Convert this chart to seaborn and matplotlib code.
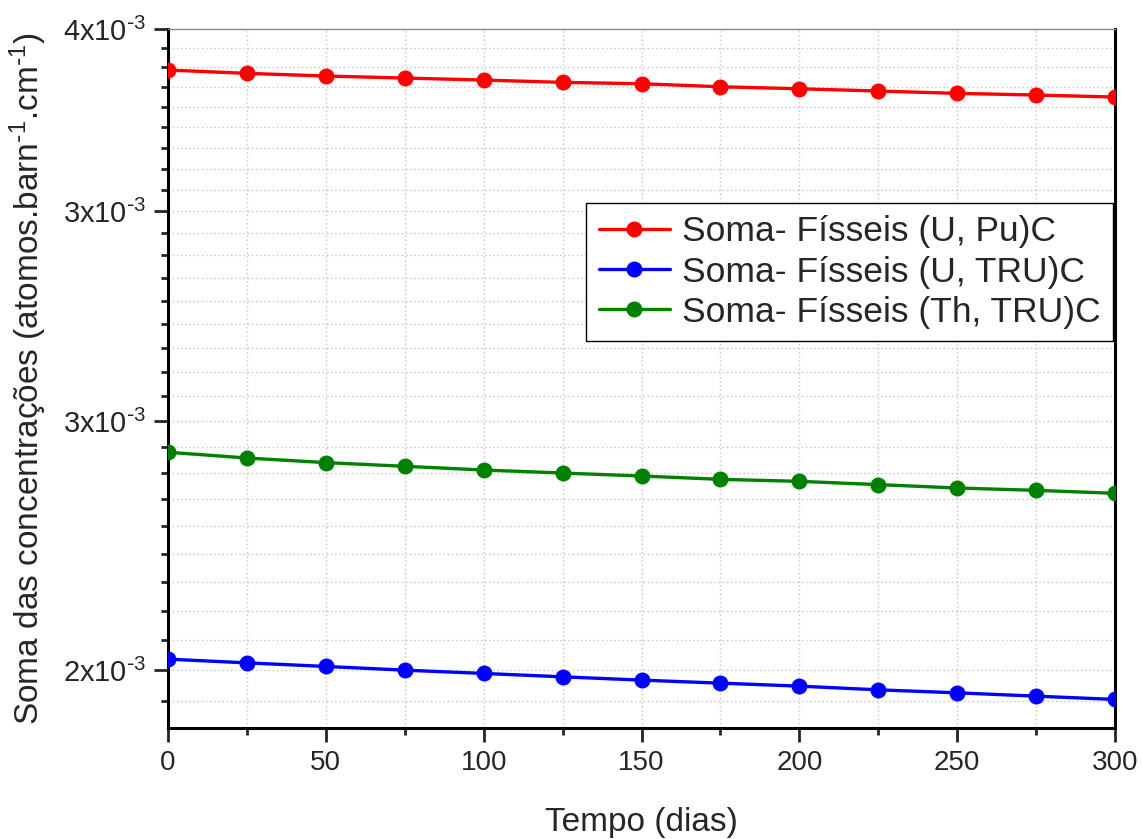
import numpy as np
import pandas as pd
import matplotlib
matplotlib.use('Agg')
import matplotlib.pyplot as plt
import seaborn as sns
from matplotlib.ticker import FixedLocator, FixedFormatter, NullFormatter

sns.set_style('ticks')
plt.rcParams.update({
    'font.family': ['Liberation Sans', 'DejaVu Sans'],
    'mathtext.default': 'regular',
})

# dados
tempo = [0, 25, 50, 75, 100, 125, 150, 175, 200, 225, 250, 275, 300]
u_pu = [3.8815, 3.8721, 3.8645, 3.8588, 3.8531, 3.8466, 3.8427,
        3.8342, 3.8286, 3.8222, 3.8157, 3.8110, 3.8054]
u_tru = [2.5201, 2.5132, 2.5066, 2.4998, 2.4938, 2.4876, 2.4816,
         2.4761, 2.4707, 2.4640, 2.4586, 2.4526, 2.4467]
th_tru = [2.9329, 2.9205, 2.9107, 2.9028, 2.8949, 2.8885, 2.8822,
          2.8752, 2.8710, 2.8641, 2.8570, 2.8521, 2.8459]
series = ['Soma- Físseis (U, Pu)C', 'Soma- Físseis (U, TRU)C', 'Soma- Físseis (Th, TRU)C']
colors = ['#FF0000', '#0000FF', '#008000']

ytick_vals = [2.5e-3, 3.0e-3, 3.5e-3, 4.0e-3]
ytick_labels = [r'2x10$^{\text{-}3}$', r'3x10$^{\text{-}3}$',
                r'3x10$^{\text{-}3}$', r'4x10$^{\text{-}3}$']

df = pd.DataFrame({
    'tempo': tempo * 3,
    'valor': [v * 1e-3 for v in u_pu + u_tru + th_tru],
    'serie': [s for s in series for _ in tempo],
})

fig = plt.figure(figsize=(11.43, 8.39), dpi=100)
ax = fig.add_axes([0.147, 0.1323, 0.8285, 0.8331])

for s, c in zip(series, colors):
    d = df[df['serie'] == s]
    sns.lineplot(data=d, x='tempo', y='valor', color=c, lw=2.4, marker='o',
                 markersize=11.5, markeredgewidth=0, label=s, ax=ax, zorder=3)

ax.set_yscale('log')
ax.set_xlim(0, 300)
ax.set_ylim(2.396e-3, 4e-3)

ax.xaxis.set_major_locator(FixedLocator(range(0, 301, 50)))
ax.xaxis.set_minor_locator(FixedLocator(range(25, 301, 50)))
ax.yaxis.set_major_locator(FixedLocator(ytick_vals))
ax.yaxis.set_major_formatter(FixedFormatter(ytick_labels))
step = 0.5e-3 / 9
minors = [2.5e-3 + k * step for k in range(-1, 28) if k % 9 != 0]
ax.yaxis.set_minor_locator(FixedLocator(minors))
ax.yaxis.set_minor_formatter(NullFormatter())

ax.tick_params(which='major', direction='out', length=10, width=2,
               labelsize=20, pad=6)
ax.tick_params(axis='y', which='major', labelsize=21)
ax.tick_params(which='minor', direction='out', length=5, width=2)

ax.grid(which='both', axis='both', color='#c4c4c4', lw=1, ls=(0, (1, 2)))
ax.set_axisbelow(True)

for side in ['left', 'bottom', 'right']:
    ax.spines[side].set_linewidth(2.2)
    ax.spines[side].set_color('black')
ax.spines['top'].set_linewidth(1)
ax.spines['top'].set_color('#8a8a8a')

ax.set_xlabel('Tempo (dias)', fontsize=24, labelpad=22)
ax.set_ylabel(r'Soma das concentrações (atomos.barn$^{\text{-}1}$.cm$^{\text{-}1}$)',
              fontsize=24, labelpad=10)

leg = ax.legend(loc='upper right', bbox_to_anchor=(0.998, 0.751), fontsize=25.5,
                frameon=True, fancybox=False, edgecolor='black', framealpha=1,
                handlelength=2.0, borderpad=0.35, labelspacing=0.2,
                handletextpad=0.35, borderaxespad=0)
leg.get_frame().set_linewidth(1)

fig.savefig('out.png', dpi=100)
